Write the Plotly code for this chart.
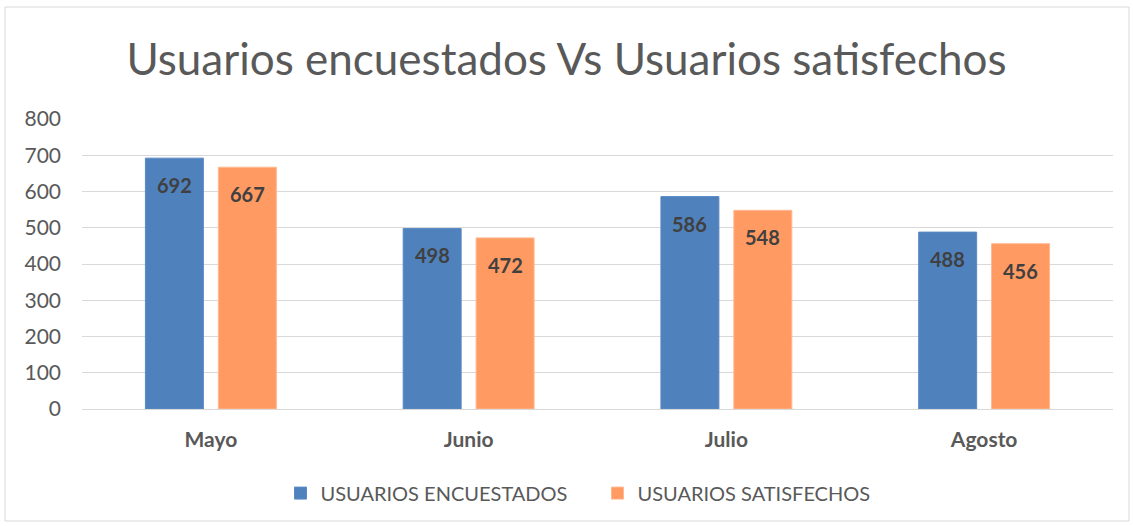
import plotly.graph_objects as go

categories = ["Mayo", "Junio", "Julio", "Agosto"]
encuestados = [692, 498, 586, 488]
satisfechos = [667, 472, 548, 456]
series_names = ["USUARIOS ENCUESTADOS", "USUARIOS SATISFECHOS"]
y_ticks = [0, 100, 200, 300, 400, 500, 600, 700, 800]

BLUE = "#4F81BD"
ORANGE = "#FF9A62"
FONT = "Lato, Open Sans, sans-serif"

fig = go.Figure()
fig.add_trace(go.Bar(x=categories, y=encuestados, name=series_names[0],
                     marker=dict(color=BLUE, line=dict(color="#5B8AC6", width=1))))
fig.add_trace(go.Bar(x=categories, y=satisfechos, name=series_names[1],
                     marker=dict(color=ORANGE, line=dict(color="#FFB890", width=1))))

# value labels inside bars near top
annotations = []
for i, c in enumerate(categories):
    for vals, shift in ((encuestados, -36.5), (satisfechos, 36.5)):
        annotations.append(dict(x=c, y=vals[i], xref="x", yref="y", text=f"<b>{vals[i]}</b>",
                                showarrow=False, xshift=shift, yshift=-27, yanchor="middle",
                                font=dict(family=FONT, size=20, color="#404040")))

fig.update_layout(
    width=1133, height=526,
    margin=dict(l=82, r=20, t=119, b=117),
    paper_bgcolor="white", plot_bgcolor="white",
    barmode="group", bargap=0.434, bargroupgap=0.205,
    title=dict(text="Usuarios encuestados Vs Usuarios satisfechos", x=0.5, xanchor="center",
               y=0.887, yanchor="middle",
               font=dict(family=FONT, size=44, color="#595959")),
    font=dict(family=FONT, color="#595959"),
    legend=dict(orientation="h", x=0.5, xanchor="center", y=-0.29, yanchor="middle",
                font=dict(family=FONT, size=20, color="#595959"), traceorder="normal",
                itemwidth=30, entrywidth=272),
    annotations=annotations,
    showlegend=True,
)
fig.update_yaxes(range=[0, 800], tickvals=y_ticks, showgrid=True, gridcolor="#D9D9D9", gridwidth=1,
                 zeroline=True, zerolinecolor="#D9D9D9", zerolinewidth=1,
                 tickfont=dict(family=FONT, size=21, color="#595959"), ticklabelstandoff=20,
                 fixedrange=True)
fig.update_xaxes(showline=True, linecolor="#D9D9D9", linewidth=1,
                 tickfont=dict(family=FONT, size=21, color="#595959"), ticklabelstandoff=12,
                 tickprefix="<b>", ticksuffix="</b>")

# outer chart border
fig.add_shape(type="rect", xref="paper", yref="paper",
              x0=(5 - 82) / 1031, x1=(1129 - 82) / 1031,
              y0=(409 - 521) / 290, y1=(409 - 7) / 290,
              line=dict(color="#D9D9D9", width=1), fillcolor="rgba(0,0,0,0)", layer="below")

fig.write_html("out.html", config={"displayModeBar": False},
               post_script="document.body.style.margin='0';")
